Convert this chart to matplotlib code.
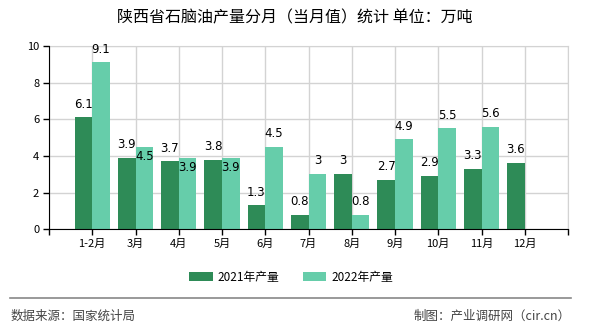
import matplotlib
matplotlib.use("Agg")
import matplotlib.pyplot as plt
import numpy as np

plt.rcParams['font.family'] = ['Noto Sans CJK SC', 'DejaVu Sans']

categories = ['1-2月', '3月', '4月', '5月', '6月', '7月', '8月', '9月', '10月', '11月', '12月']
values_2021 = [6.1, 3.9, 3.7, 3.8, 1.3, 0.8, 3, 2.7, 2.9, 3.3, 3.6]
values_2022 = [9.1, 4.5, 3.9, 3.9, 4.5, 3, 0.8, 4.9, 5.5, 5.6, None]
series_names = ['2021年产量', '2022年产量']
inside_2022 = [False, True, True, True, False, False, False, False, False, False, False]
yticks = [0, 2, 4, 6, 8, 10]

c1 = '#2E8B57'
c2 = '#66CDAA'

fig = plt.figure(figsize=(5.9, 3.3), dpi=100)
ax = fig.add_axes([49/590, 1 - 229.3/330, 519/590, 183.3/330])

x = np.arange(1, len(categories) + 1)
w = 0.41
b1 = ax.bar(x - w/2, values_2021, width=w, color=c1, label=series_names[0], zorder=3)
x2 = [xi for xi, v in zip(x, values_2022) if v is not None]
v2 = [v for v in values_2022 if v is not None]
b2 = ax.bar(np.array(x2) + w/2, v2, width=w, color=c2, label=series_names[1], zorder=3)

def fmt(v):
    return ('%g' % v)

for xi, v in zip(x, values_2021):
    ax.annotate(fmt(v), (xi - w/2, v), xytext=(0, 5), textcoords='offset points',
                ha='center', va='bottom', fontsize=8.5, family='DejaVu Sans', zorder=5)
for xi, v, ins in zip(x, values_2022, inside_2022):
    if v is None:
        continue
    if ins:
        ax.annotate(fmt(v), (xi + w/2, v), xytext=(0, -2), textcoords='offset points',
                    ha='center', va='top', fontsize=8.5, family='DejaVu Sans', zorder=5)
    else:
        ax.annotate(fmt(v), (xi + w/2, v), xytext=(0, 5), textcoords='offset points',
                    ha='center', va='bottom', fontsize=8.5, family='DejaVu Sans', zorder=5)

ax.set_xlim(0, len(categories) + 1)
ax.set_ylim(0, 10)
ax.set_yticks(yticks)
ax.set_yticklabels([str(t) for t in yticks], fontsize=8)
ax.set_xticks(np.arange(0, len(categories) + 2))
ax.set_xticklabels([''] + categories + [''], fontsize=8)
ax.tick_params(axis='both', length=4, width=1, color='black', pad=3)
ax.grid(True, color='#d3d3d3', linewidth=1, zorder=0)
for s in ['top', 'right']:
    ax.spines[s].set_color('#d3d3d3')
for s in ['left', 'bottom']:
    ax.spines[s].set_color('black')
    ax.spines[s].set_zorder(4)

fig.text(0.5, 1 - 18/330, '陕西省石脑油产量分月（当月值）统计 单位：万吨',
         ha='center', va='center', fontsize=11.5)

leg = fig.legend(handles=[b1, b2], labels=series_names, loc='center',
                 bbox_to_anchor=(291/590, 1 - 277/330), ncol=2, frameon=False,
                 fontsize=8.5, handlelength=2.0, handleheight=0.8, columnspacing=2.0,
                 handletextpad=0.4)

fig.add_artist(plt.Line2D([10/590, 571/590], [1 - 298.3/330, 1 - 298.3/330],
                          color='#888888', linewidth=1.2, transform=fig.transFigure))
fig.text(11/590, 1 - 316/330, '数据来源：国家统计局', ha='left', va='center',
         fontsize=9, color='#444444')
fig.text(571/590, 1 - 316/330, '制图：产业调研网（cir.cn）', ha='right', va='center',
         fontsize=9, color='#444444')

fig.savefig('out.png', dpi=100)
